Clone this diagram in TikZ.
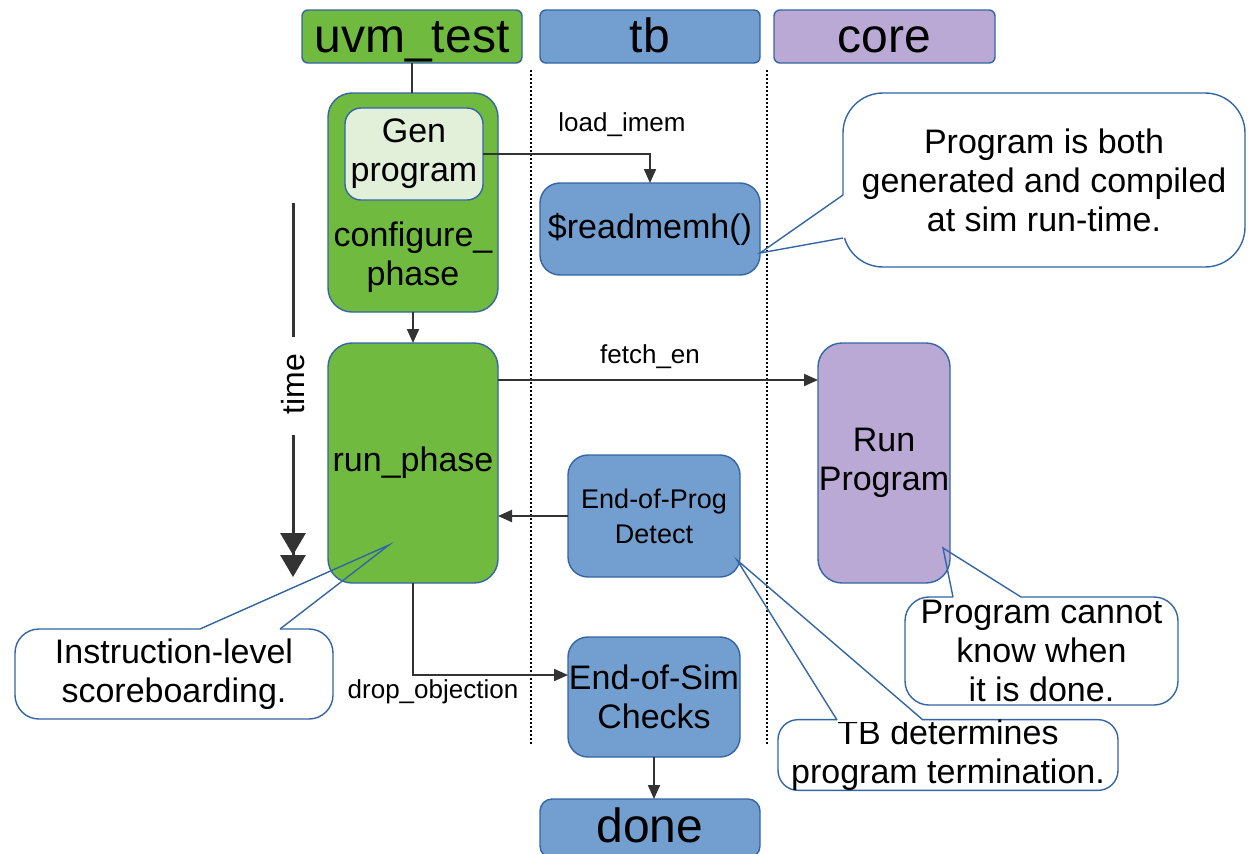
\documentclass[tikz,border=0pt]{standalone}
\usepackage{fontspec}
\setmainfont{Liberation Sans}
\usetikzlibrary{arrows.meta,calc}

\definecolor{boxgreen}{HTML}{70BA3F}
\definecolor{lightgreen}{HTML}{E2EFD9}
\definecolor{boxblue}{HTML}{729FCF}
\definecolor{boxpurple}{HTML}{BAA9D4}
\definecolor{edgeblue}{HTML}{3465A4}
\definecolor{wire}{HTML}{333333}

\begin{document}
\begin{tikzpicture}[x=0.5pt,y=-0.5pt,
  every node/.style={inner sep=0pt, outer sep=0pt, align=center},
  hdr/.style={draw=edgeblue, line width=0.7pt, rounded corners=3pt,
    font=\fontsize{24}{28}\selectfont, minimum width=110pt,
    text height=21pt, text depth=5.5pt},
  phasebox/.style={draw=edgeblue, line width=0.7pt, rounded corners=12pt, fill=boxgreen},
  tbbox/.style={draw=edgeblue, line width=0.7pt, rounded corners=10pt, fill=boxblue},
  corebox/.style={draw=edgeblue, line width=0.7pt, rounded corners=12pt, fill=boxpurple},
  txt/.style={font=\fontsize{17}{19.5}\selectfont},
  smalltxt/.style={font=\fontsize{13.5}{17.5}\selectfont},
  lbl/.style={font=\fontsize{13}{15}\selectfont},
  conn/.style={line width=1pt, draw=wire},
  tip/.style={-{Triangle[length=7pt,width=6pt]}},
  lane/.style={line width=1pt, dash pattern=on 1pt off 1pt},
  bubble/.style={draw=edgeblue, line width=0.7pt, fill=white, rounded corners=12pt,
    font=\fontsize{17}{19.5}\selectfont},
  bubbleedge/.style={draw=edgeblue, line width=0.7pt, line join=miter},
  gapline/.style={draw=white, line width=2.2pt}
]
\useasboundingbox (0,0) rectangle (1248,853);

% swim-lane separators
\coordinate (laneAtop) at (531,70);
\coordinate (laneAbot) at (531,745);
\coordinate (laneBtop) at (767,70);
\coordinate (laneBbot) at (767,745);
\draw[lane] (laneAtop) -- (laneAbot);
\draw[lane] (laneBtop) -- (laneBbot);

% lane headers
\node[hdr, fill=boxgreen] (huvm) at (412,36.5) {uvm\_test};
\node[hdr, fill=boxblue] (htb) at (650,36.5) {tb};
\node[hdr, fill=boxpurple, minimum width=110.5pt] (hcore) at (884.5,36.5) {core};

% uvm_test phases
\node[phasebox, minimum width=85pt, minimum height=109.5pt] (cfg) at (413,202.5) {};
\node[draw=edgeblue, line width=0.7pt, rounded corners=8pt, fill=lightgreen,
  minimum width=69pt, minimum height=46pt, txt] (gen) at (414,154) {Gen\\program};
\node[txt] (cfgtxt) at (413,257) {configure\_\\phase};
\node[phasebox, minimum width=85pt, minimum height=120pt, txt] (run) at (413,463) {run\_phase};

% tb blocks
\node[tbbox, minimum width=110pt, minimum height=46pt, txt] (rmh) at (650,229) {\$readmemh()};
\node[tbbox, minimum width=86pt, minimum height=61pt, smalltxt] (eop) at (654,516) {End-of-Prog\\Detect};
\node[tbbox, minimum width=86pt, minimum height=60pt, txt] (eos) at (654,697) {End-of-Sim\\Checks};
\node[tbbox, rounded corners=6pt, minimum width=110pt, text height=21.5pt, text depth=8pt,
  font=\fontsize{24}{28}\selectfont] (done) at (650,828.5) {done};

% core block
\node[corebox, minimum width=66pt, minimum height=120pt, txt] (rp) at (884,463) {Run\\Program};

% connectors
\draw[conn] (huvm.south) -- (huvm.south |- cfg.north);
\draw[conn, tip] (cfg.south) -- (cfg.south |- run.north);
\draw[conn, tip] (gen.east) -| (rmh.north);
\node[lbl] (limem) at (622,125) {load\_imem};

\coordinate (fetchlvl) at (0,380);
\draw[conn, tip] (run.east |- fetchlvl) -- (rp.west |- fetchlvl);
\node[lbl] (fen) at (650,357) {fetch\_en};

\draw[conn, tip] (eop.west) -- (eop.west -| run.east);

\coordinate (droplvl) at (0,675);
\draw[conn, tip] (run.south) -- (run.south |- droplvl) -- (eos.west |- droplvl);
\node[lbl] (dobj) at (433,692) {drop\_objection};

\draw[conn, tip] (eos.south) -- (eos.south |- done.north);

% time axis
\node[rotate=90, font=\fontsize{16}{18}\selectfont] (timelbl) at (293,384) {time};
\coordinate (tA) at (293,203);
\coordinate (tB) at (293,337);
\coordinate (tC) at (293,435);
\coordinate (tD) at (293,577);
\draw[line width=1.5pt, draw=wire] (tA) -- (tB);
\draw[line width=1.5pt, draw=wire,
  -{Triangle[length=11pt,width=12.5pt]Triangle[length=11pt,width=12.5pt]}] (tC) -- (tD);

% callout: program generation
\node[bubble, rounded corners=20pt, minimum width=201pt, minimum height=87pt] (cgen) at (1044,180)
  {Program is both\\generated and compiled\\at sim run-time.};
\coordinate (cgenA) at (843,195);
\coordinate (cgenB) at (843,238);
\coordinate (cgenT) at (760,253);
\draw[gapline] (cgenA) -- (cgenB);
\draw[bubbleedge] (cgenA) -- (cgenT) -- (cgenB);

% callout: program cannot know
\node[bubble, minimum width=136.5pt, minimum height=54pt] (cknow) at (1041.5,651)
  {Program cannot\\know when\\it is done.};
\coordinate (cknowA) at (953,597);
\coordinate (cknowB) at (1021,597);
\coordinate (cknowT) at (943,548);
\draw[gapline] (cknowA) -- (cknowB);
\draw[bubbleedge] (cknowA) -- (cknowT) -- (cknowB);

% callout: tb determines termination
\node[bubble, rounded corners=10pt, minimum width=170pt, minimum height=35pt] (cterm) at (948,755)
  {TB determines\\program termination.};
\coordinate (ctermA) at (837,720);
\coordinate (ctermB) at (923,720);
\coordinate (ctermT) at (737,560);
\draw[gapline] (ctermA) -- (ctermB);
\draw[bubbleedge] (ctermA) -- (ctermT) -- (ctermB);

% callout: scoreboarding
\node[bubble, minimum width=159pt, minimum height=45pt] (cscore) at (174,674)
  {Instruction-level\\scoreboarding.};
\coordinate (cscoreA) at (200,629);
\coordinate (cscoreB) at (280,629);
\coordinate (cscoreT) at (389,545);
\draw[gapline] (cscoreA) -- (cscoreB);
\draw[bubbleedge] (cscoreA) -- (cscoreT) -- (cscoreB);
\end{tikzpicture}
\end{document}
